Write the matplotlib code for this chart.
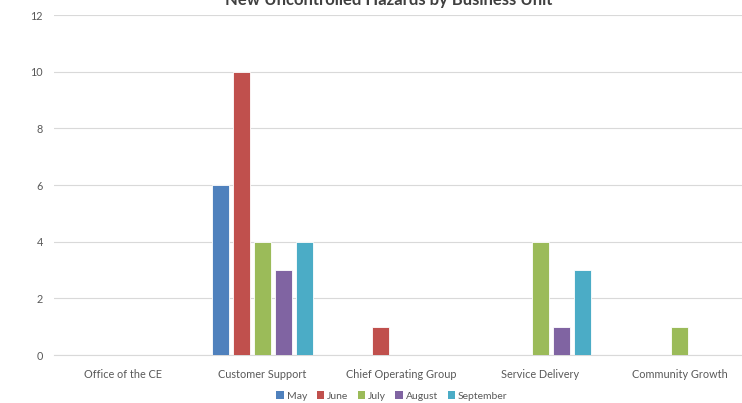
import matplotlib
matplotlib.use("Agg")
import matplotlib.pyplot as plt
from matplotlib.patches import Patch
import numpy as np

plt.rcParams['font.family'] = ['Lato', 'DejaVu Sans']

units = ['Office of the CE', 'Customer Support', 'Chief Operating Group',
         'Service Delivery', 'Community Growth']
months = ['May', 'June', 'July', 'August', 'September']
may = [0, 6, 0, 0, 0]
june = [0, 10, 1, 0, 0]
july = [0, 4, 0, 4, 1]
august = [0, 3, 0, 1, 0]
september = [0, 4, 0, 3, 0]
colors = ['#4f81bd', '#c0504d', '#9bbb59', '#8064a2', '#4bacc6']

fig = plt.figure(figsize=(7.42, 4.03), dpi=100)
# plot area runs past the right edge of the canvas
ax = fig.add_axes([54 / 742, 48 / 403, 695 / 742, 340 / 403])

x = np.arange(len(units))
step = 0.151
width = 0.122
series = [may, june, july, august, september]
for i, (vals, c) in enumerate(zip(series, colors)):
    ax.bar(x + (i - 2) * step, vals, width, color=c, edgecolor='white',
           linewidth=0.6, zorder=3)

ax.set_xlim(-0.5, len(units) - 0.5)
ax.set_ylim(0, 12)
ax.set_yticks(range(0, 13, 2))
ax.set_xticks(x)
ax.set_xticklabels(units)
ax.tick_params(axis='both', length=0, labelsize=7.8, colors='#595959')
ax.tick_params(axis='x', pad=10)
ax.tick_params(axis='y', pad=8)
ax.grid(axis='y', color='#d9d9d9', linewidth=0.8, zorder=0)
for s in ['top', 'right', 'left']:
    ax.spines[s].set_visible(False)
ax.spines['bottom'].set_color('#d9d9d9')
ax.spines['bottom'].set_linewidth(0.8)

fig.text(389 / 742, 1 - 5 / 403, 'New Uncontrolled Hazards by Business Unit',
         ha='center', va='baseline', fontsize=12, fontweight='bold',
         color='#404040')

handles = [Patch(facecolor=c, label=m) for m, c in zip(months, colors)]
fig.legend(handles=handles, loc='center', bbox_to_anchor=(392 / 742, 1 - 396 / 403),
           ncol=5, frameon=False, fontsize=7.5, handlelength=0.7,
           handleheight=0.7, handletextpad=0.3, columnspacing=0.9,
           labelcolor='#595959')

fig.savefig('out.png', dpi=100)
